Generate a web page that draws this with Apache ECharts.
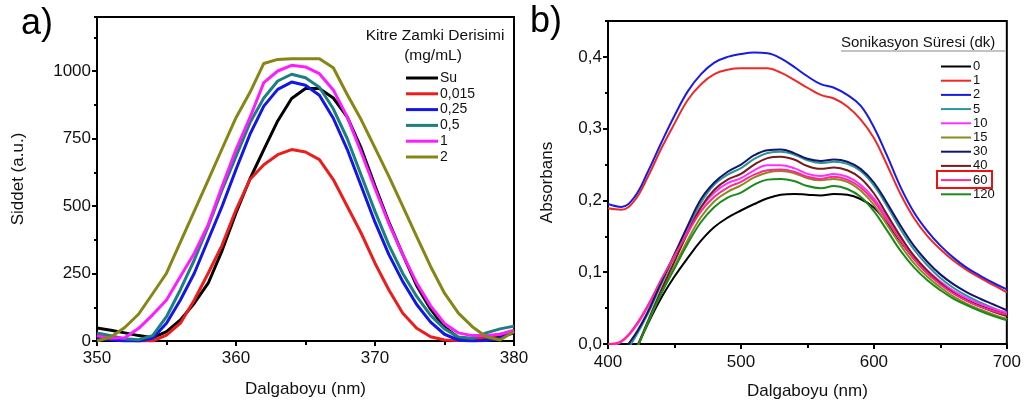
<!DOCTYPE html>
<html>
<head>
<meta charset="utf-8">
<script src="https://cdn.jsdelivr.net/npm/echarts@6/dist/echarts.min.js"></script>
<style>
  html, body { margin: 0; padding: 0; background: #fff; }
  #chart { width: 1024px; height: 409px; }
</style>
</head>
<body>
<div id="chart"></div>
<script>
// ---- Panel a: fluorescence emission (Siddet vs Dalgaboyu) ----
const waveA = [350, 351, 352, 353, 354, 355, 356, 357, 358, 359, 360, 361, 362, 363, 364, 365,
               366, 367, 368, 369, 370, 371, 372, 373, 374, 375, 376, 377, 378, 379, 380];
const namesA = ['Su', '0,015', '0,25', '0,5', '1', '2'];
const colorsA = ['#000000', '#ee1c1c', '#1515e8', '#1a8080', '#ff1cff', '#868614'];
const su     = [48, 40, 30, 20, 12, 35, 78, 140, 214, 335, 474, 600, 709, 815, 898, 935,
                935, 900, 830, 715, 575, 440, 320, 205, 118, 52, 12, 3, 8, 15, 30];
const c0015  = [22, 12, 5, 0, 0, 22, 66, 152, 251, 355, 486, 598, 653, 690, 709, 700,
                672, 598, 499, 400, 288, 189, 103, 47, 16, 4, 2, 5, 15, 25, 35];
const c025   = [10, 5, 0, 0, 10, 66, 152, 251, 375, 499, 635, 765, 870, 932, 959, 947,
                910, 825, 710, 575, 440, 320, 220, 135, 70, 25, 3, 0, 2, 10, 35];
const c05    = [30, 20, 8, 5, 20, 90, 190, 300, 424, 560, 684, 808, 900, 963, 988, 975,
                940, 860, 750, 615, 480, 355, 250, 165, 95, 45, 15, 10, 30, 45, 55];
const c1     = [19, 10, 12, 47, 97, 152, 239, 325, 431, 573, 709, 827, 957, 1000, 1021, 1015,
                990, 930, 830, 700, 565, 435, 320, 215, 130, 65, 30, 20, 20, 25, 40];
const c2     = [0, 15, 50, 100, 175, 251, 366, 481, 596, 712, 827, 920, 1028, 1043, 1045, 1045,
                1045, 1012, 913, 820, 715, 610, 499, 387, 276, 177, 103, 53, 16, 4, 35];
const seriesA = [su, c0015, c025, c05, c1, c2];
const yTicksA = [0, 250, 500, 750, 1000];

// ---- Panel b: absorbance spectra for sonication times (dk) ----
const waveB = [400, 410, 420, 430, 440, 450, 460, 470, 480, 490, 500, 510, 520, 530, 540, 550,
               560, 570, 580, 590, 600, 610, 620, 630, 640, 650, 660, 670, 680, 690, 700];
const namesB = ['0', '1', '2', '5', '10', '15', '30', '40', '60', '120'];
const colorsB = ['#000000', '#f02828', '#1a1ae6', '#2a9696', '#ff30ff', '#8a8a1e',
                 '#14146e', '#7a1a1a', '#ff2890', '#1a8a1a'];
const t0   = [-0.07, -0.045, -0.012, 0.028, 0.064, 0.094, 0.120, 0.144, 0.163, 0.176, 0.186, 0.195, 0.203, 0.208, 0.209, 0.208,
              0.207, 0.209, 0.208, 0.202, 0.190, 0.168, 0.143, 0.119, 0.099, 0.084, 0.071, 0.061, 0.053, 0.047, 0.042];
const t1   = [0.189, 0.187, 0.200, 0.233, 0.272, 0.307, 0.340, 0.362, 0.376, 0.382, 0.384, 0.384, 0.384, 0.378, 0.368, 0.357,
              0.347, 0.342, 0.331, 0.313, 0.287, 0.249, 0.209, 0.176, 0.151, 0.132, 0.116, 0.103, 0.092, 0.082, 0.072];
const t2   = [0.195, 0.191, 0.205, 0.240, 0.280, 0.318, 0.352, 0.376, 0.392, 0.400, 0.404, 0.406, 0.405, 0.398, 0.386, 0.373,
              0.362, 0.357, 0.347, 0.332, 0.302, 0.262, 0.219, 0.184, 0.158, 0.137, 0.120, 0.106, 0.095, 0.085, 0.076];
const t5   = [-0.04, -0.02, 0.008, 0.042, 0.083, 0.122, 0.161, 0.197, 0.222, 0.236, 0.245, 0.258, 0.266, 0.268, 0.264, 0.256,
              0.252, 0.254, 0.251, 0.241, 0.221, 0.192, 0.160, 0.132, 0.110, 0.092, 0.078, 0.067, 0.058, 0.050, 0.043];
const t10  = [-0.003, 0.003, 0.022, 0.052, 0.088, 0.123, 0.158, 0.190, 0.211, 0.224, 0.231, 0.242, 0.249, 0.249, 0.245, 0.237,
              0.234, 0.237, 0.233, 0.222, 0.203, 0.176, 0.148, 0.123, 0.103, 0.087, 0.074, 0.064, 0.056, 0.049, 0.044];
const t15  = [-0.07, -0.045, -0.012, 0.030, 0.071, 0.108, 0.145, 0.177, 0.199, 0.212, 0.221, 0.232, 0.239, 0.241, 0.238, 0.231,
              0.228, 0.230, 0.226, 0.214, 0.194, 0.166, 0.138, 0.113, 0.094, 0.079, 0.066, 0.056, 0.048, 0.041, 0.035];
const t30  = [-0.03, -0.012, 0.012, 0.045, 0.086, 0.125, 0.165, 0.202, 0.225, 0.240, 0.250, 0.263, 0.270, 0.271, 0.266, 0.258,
              0.255, 0.257, 0.254, 0.244, 0.225, 0.196, 0.165, 0.137, 0.115, 0.097, 0.083, 0.072, 0.063, 0.055, 0.047];
const t40  = [-0.06, -0.04, -0.01, 0.032, 0.075, 0.115, 0.155, 0.191, 0.215, 0.229, 0.237, 0.250, 0.259, 0.261, 0.257, 0.248,
              0.244, 0.246, 0.242, 0.231, 0.210, 0.180, 0.150, 0.123, 0.102, 0.085, 0.071, 0.060, 0.052, 0.045, 0.039];
const t60  = [0.0, 0.004, 0.024, 0.054, 0.090, 0.123, 0.155, 0.185, 0.205, 0.218, 0.226, 0.236, 0.242, 0.243, 0.240, 0.233,
              0.230, 0.233, 0.229, 0.218, 0.199, 0.172, 0.144, 0.119, 0.099, 0.083, 0.070, 0.060, 0.052, 0.046, 0.041];
const t120 = [-0.07, -0.045, -0.012, 0.030, 0.070, 0.105, 0.140, 0.170, 0.191, 0.204, 0.211, 0.222, 0.229, 0.230, 0.227, 0.220,
              0.217, 0.220, 0.216, 0.205, 0.185, 0.158, 0.130, 0.107, 0.089, 0.075, 0.063, 0.054, 0.046, 0.039, 0.033];
const seriesB = [t0, t1, t2, t5, t10, t15, t30, t40, t60, t120];

const FONT = '"Liberation Sans", Arial, sans-serif';
// series in panel b are keyed with a prefix so they never share a legend entry with panel a
const KEY_B = 'dk ';

function pairs(xs, ys) { return xs.map((x, i) => [x, ys[i]]); }

const chart = echarts.init(document.getElementById('chart'), null, { renderer: 'canvas' });

const baseAxisLabel = { color: '#111', fontSize: 17, fontFamily: FONT };
const nameStyle = { color: '#111', fontSize: 17, fontFamily: FONT };
const axisLine = { show: true, lineStyle: { color: '#000', width: 2 } };

const series = [];
namesA.forEach((n, i) => series.push({
  name: n, type: 'line', xAxisIndex: 0, yAxisIndex: 0, showSymbol: false, symbol: 'none',
  data: pairs(waveA, seriesA[i]), lineStyle: { color: colorsA[i], width: 3 }, itemStyle: { color: colorsA[i] },
  z: 2 + i
}));
namesB.forEach((n, i) => series.push({
  name: KEY_B + n, type: 'line', xAxisIndex: 1, yAxisIndex: 2, showSymbol: false, symbol: 'none',
  smooth: 0.4,
  data: pairs(waveB, seriesB[i]), lineStyle: { color: colorsB[i], width: 2 }, itemStyle: { color: colorsB[i] },
  z: 2 + i
}));

const option = {
  backgroundColor: '#fff',
  animation: false,
  grid: [
    { left: 97, top: 17, width: 417, height: 324, show: true, borderColor: '#000', borderWidth: 2, backgroundColor: 'transparent' },
    { left: 608, top: 21, width: 401, height: 323, show: true, borderColor: '#000', borderWidth: 2, backgroundColor: 'transparent' }
  ],
  xAxis: [
    {
      gridIndex: 0, type: 'value', min: 350, max: 380, interval: 10,
      axisLine, splitLine: { show: false },
      axisTick: { length: 5, lineStyle: { width: 2, color: '#000' } },
      minorTick: { show: true, splitNumber: 2, length: 4, lineStyle: { width: 2, color: '#000' } },
      axisLabel: { ...baseAxisLabel, margin: 9 },
      name: 'Dalgaboyu (nm)', nameLocation: 'middle', nameGap: 40, nameTextStyle: nameStyle
    },
    {
      gridIndex: 1, type: 'value', min: 400, max: 700, interval: 100,
      axisLine, splitLine: { show: false },
      axisTick: { length: 5, lineStyle: { width: 2, color: '#000' } },
      minorTick: { show: true, splitNumber: 2, length: 4, lineStyle: { width: 2, color: '#000' } },
      axisLabel: { ...baseAxisLabel, margin: 10 },
      name: 'Dalgaboyu (nm)', nameLocation: 'middle', nameGap: 39, nameTextStyle: nameStyle
    }
  ],
  yAxis: [
    {
      gridIndex: 0, type: 'value', position: 'left', min: 0, max: 1200, interval: 250,
      axisLine, splitLine: { show: false },
      axisTick: { length: 5, lineStyle: { width: 2, color: '#000' } },
      axisLabel: { ...baseAxisLabel, margin: 6, showMaxLabel: false,
        formatter: v => (yTicksA.indexOf(v) >= 0 ? String(v) : '') },
      name: 'Siddet (a.u.)', nameLocation: 'middle', nameGap: 70, nameTextStyle: nameStyle
    },
    {
      // short ticks every 125 units
      gridIndex: 0, type: 'value', position: 'left', offset: 0, min: 0, max: 1200, interval: 125,
      axisLine: { show: false }, splitLine: { show: false }, axisLabel: { show: false },
      axisTick: { length: 3, lineStyle: { width: 2, color: '#000' } }
    },
    {
      gridIndex: 1, type: 'value', position: 'left', min: 0, max: 0.45, interval: 0.1,
      axisLine, splitLine: { show: false },
      axisTick: { length: 5, lineStyle: { width: 2, color: '#000' } },
      axisLabel: { ...baseAxisLabel, margin: 6, showMaxLabel: false,
        formatter: v => (v <= 0.4 + 1e-9 ? v.toFixed(1).replace('.', ',') : '') },
      name: 'Absorbans', nameLocation: 'middle', nameGap: 52, nameTextStyle: nameStyle
    },
    {
      // short ticks every 0.05
      gridIndex: 1, type: 'value', position: 'left', offset: 0, min: 0, max: 0.45, interval: 0.05,
      axisLine: { show: false }, splitLine: { show: false }, axisLabel: { show: false },
      axisTick: { length: 3, lineStyle: { width: 2, color: '#000' } }
    }
  ],
  legend: [
    {
      data: namesA, orient: 'vertical', left: 401, top: 66,
      itemWidth: 32, itemHeight: 3, itemGap: 1.8, icon: 'rect',
      textStyle: { color: '#111', fontSize: 14, lineHeight: 14, fontFamily: FONT, padding: [0, 0, 0, -3] },
      selectedMode: false
    },
    {
      data: namesB.map(n => KEY_B + n), orient: 'vertical', left: 936, top: 55,
      itemWidth: 30, itemHeight: 2, itemGap: 1.2, icon: 'rect',
      formatter: name => name.slice(KEY_B.length),
      textStyle: { color: '#111', fontSize: 13, lineHeight: 13, fontFamily: FONT, padding: [0, 0, 0, -3] },
      selectedMode: false
    }
  ],
  graphic: [
    { type: 'text', left: 21, top: 6, style: { text: 'a)', font: '36px ' + FONT, fill: '#000' } },
    { type: 'text', left: 530, top: 4, style: { text: 'b)', font: '36px ' + FONT, fill: '#000' } },
    { type: 'text', x: 435, y: 36, style: { text: 'Kitre Zamki Derisimi', font: '15.5px ' + FONT, fill: '#111', align: 'center', verticalAlign: 'middle' } },
    { type: 'text', x: 433, y: 56, style: { text: '(mg/mL)', font: '15.5px ' + FONT, fill: '#111', align: 'center', verticalAlign: 'middle' } },
    { type: 'text', x: 841, y: 43, style: { text: 'Sonikasyon Süresi (dk)', font: '15px ' + FONT, fill: '#111', align: 'left', verticalAlign: 'middle' } },
    { type: 'line', shape: { x1: 841, y1: 51, x2: 1005, y2: 51 }, style: { stroke: '#888', lineWidth: 1 } },
    { type: 'rect', shape: { x: 937, y: 171, width: 55, height: 17 }, style: { stroke: '#ee1111', lineWidth: 2, fill: 'none' }, z: 100 }
  ],
  series
};

chart.setOption(option);
</script>
</body>
</html>
